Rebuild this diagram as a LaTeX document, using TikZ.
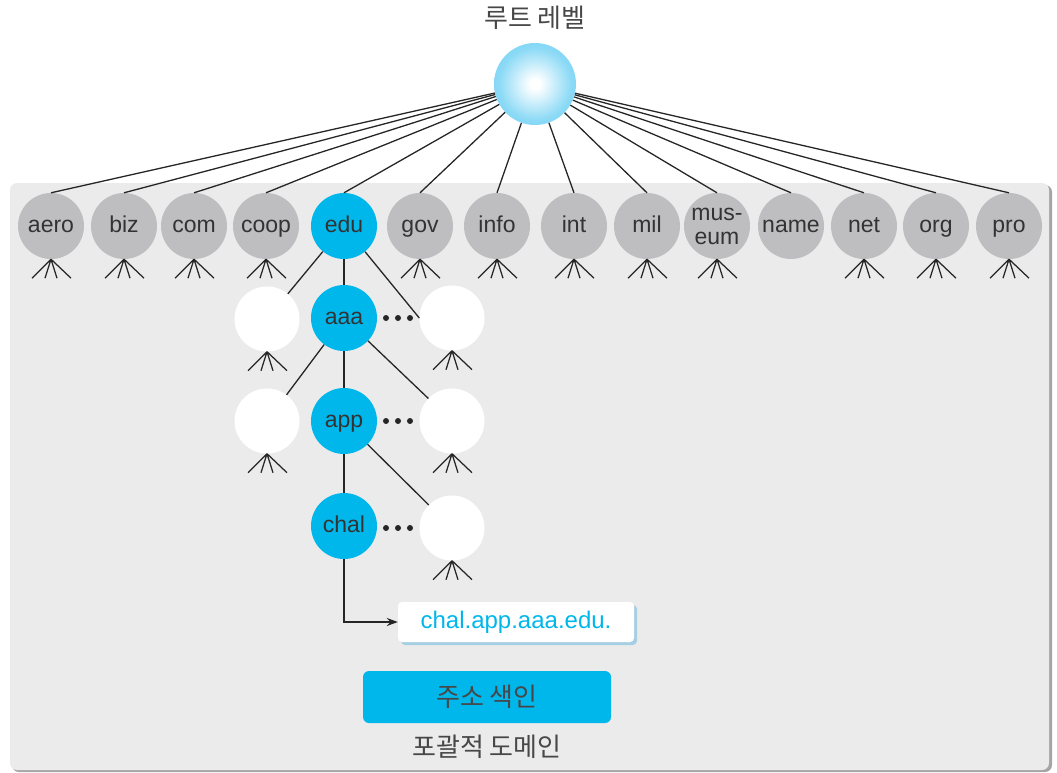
\documentclass[tikz,border=0pt]{standalone}
\usepackage{fontspec}
\setmainfont{Liberation Sans}
\newfontfamily\kr{Noto Sans CJK KR}
\usetikzlibrary{arrows.meta,shadows}
\definecolor{panelgray}{RGB}{235,235,236}
\definecolor{panelshadow}{RGB}{165,165,168}
\definecolor{tldgray}{RGB}{190,190,192}
\definecolor{edublue}{RGB}{0,183,235}
\definecolor{txt}{RGB}{51,51,51}
\definecolor{rootedge}{RGB}{75,196,240}
\definecolor{rootmid}{RGB}{140,218,246}
\definecolor{addrshadow}{RGB}{150,200,225}
\pgfdeclareradialshading{rootball}{\pgfpoint{0bp}{0bp}}{color(0bp)=(white); color(3bp)=(white); color(22bp)=(rootmid); color(50bp)=(rootedge); color(72bp)=(rootedge)}
\newcommand\drawfan[1]{\draw[fanline] (#1.south) -- ++(-19,19) (#1.south) -- ++(-6,19) (#1.south) -- ++(6,19) (#1.south) -- ++(20,19);}
\begin{document}
\begin{tikzpicture}[x=1pt,y=-1pt,
  every node/.style={text=txt, font=\fontsize{23}{24}\selectfont},
  lbl/.style={text height=12pt, text depth=0pt},
  tld/.style={circle, fill=tldgray, minimum size=66pt, inner sep=0pt, lbl},
  bluenode/.style={circle, fill=edublue, minimum size=66pt, inner sep=0pt, lbl},
  blank/.style={circle, fill=white, minimum size=65pt, inner sep=0pt},
  edge/.style={draw=black!85, line width=1.3pt},
  fanline/.style={draw=black!85, line width=1.25pt},
  krtext/.style={text=txt!90, font=\kr\fontsize{26}{26}\selectfont},
]
\useasboundingbox (0,0) rectangle (1057,773);
% panel
\fill[panelshadow, rounded corners=7pt] (12,185) rectangle (1052,772);
\fill[panelgray, rounded corners=7pt] (10,183) rectangle (1049,770);

% root
\node[circle, minimum size=82pt, inner sep=0pt, shading=rootball] (root) at (535,84) {};
\node[krtext] (rootlabel) at (535,18) {루트 레벨};

% top level domains
\foreach \n/\x in {aero/51, biz/124, com/194, coop/266, gov/420, info/497, int/574, mil/647, name/791, net/864, org/936, pro/1009}
  {\node[tld] (\n) at (\x,226) {\n};}
\node[tld, align=center, text height=36pt, text depth=0pt] (museum) at (717,226) {mus-\\eum};
\node[bluenode] (edu) at (344,226) {edu};

\foreach \n in {aero,biz,com,coop,edu,gov,info,int,mil,museum,name,net,org,pro}
  {\draw[edge] (root) -- (\n.north);}

\foreach \n in {aero,biz,com,coop,gov,info,int,mil,museum,net,org,pro}
  {\drawfan{\n}}

% subtree
\node[bluenode] (aaa) at (344,318) {aaa};
\node[bluenode] (app) at (344,421) {app};
\node[bluenode] (chal) at (344,526) {chal};
\node[blank] (w2l) at (267,319) {};
\node[blank] (w2r) at (452,318) {};
\node[blank] (w3l) at (267,421) {};
\node[blank] (w3r) at (452,421) {};
\node[blank] (w4r) at (452,528) {};

\draw[edge] (edu) -- (w2l);
\draw[edge] (edu) -- (aaa);
\draw[edge] (edu) -- (w2r.west);
\draw[edge] (aaa) -- (w3l);
\draw[edge] (aaa) -- (app);
\draw[edge] (aaa) -- (w3r);
\draw[edge] (app) -- (chal);
\draw[edge] (app) -- (w4r);

\foreach \n in {w2l,w2r,w3l,w3r,w4r}
  {\drawfan{\n}}

\foreach \y in {318,421,528}
  {\foreach \x in {386,398,410}
    {\fill[black!85] (\x,\y) circle (3pt);}}

% address
\node[fill=white, rounded corners=4pt, minimum width=236pt, minimum height=40pt, text=edublue, lbl,
      font=\fontsize{24}{24}\selectfont,
      drop shadow={shadow xshift=3pt, shadow yshift=-3pt, fill=addrshadow, opacity=0.8}] (addr) at (516,622) {chal.app.aaa.edu.};
\draw[edge, -{Stealth[length=11pt,width=8pt]}] (chal) |- (addr);

\node[fill=edublue, rounded corners=6pt, minimum width=248pt, minimum height=52pt, krtext] (index) at (487,697) {주소 색인};
\node[krtext] (generic) at (487,747) {포괄적 도메인};
\end{tikzpicture}
\end{document}
